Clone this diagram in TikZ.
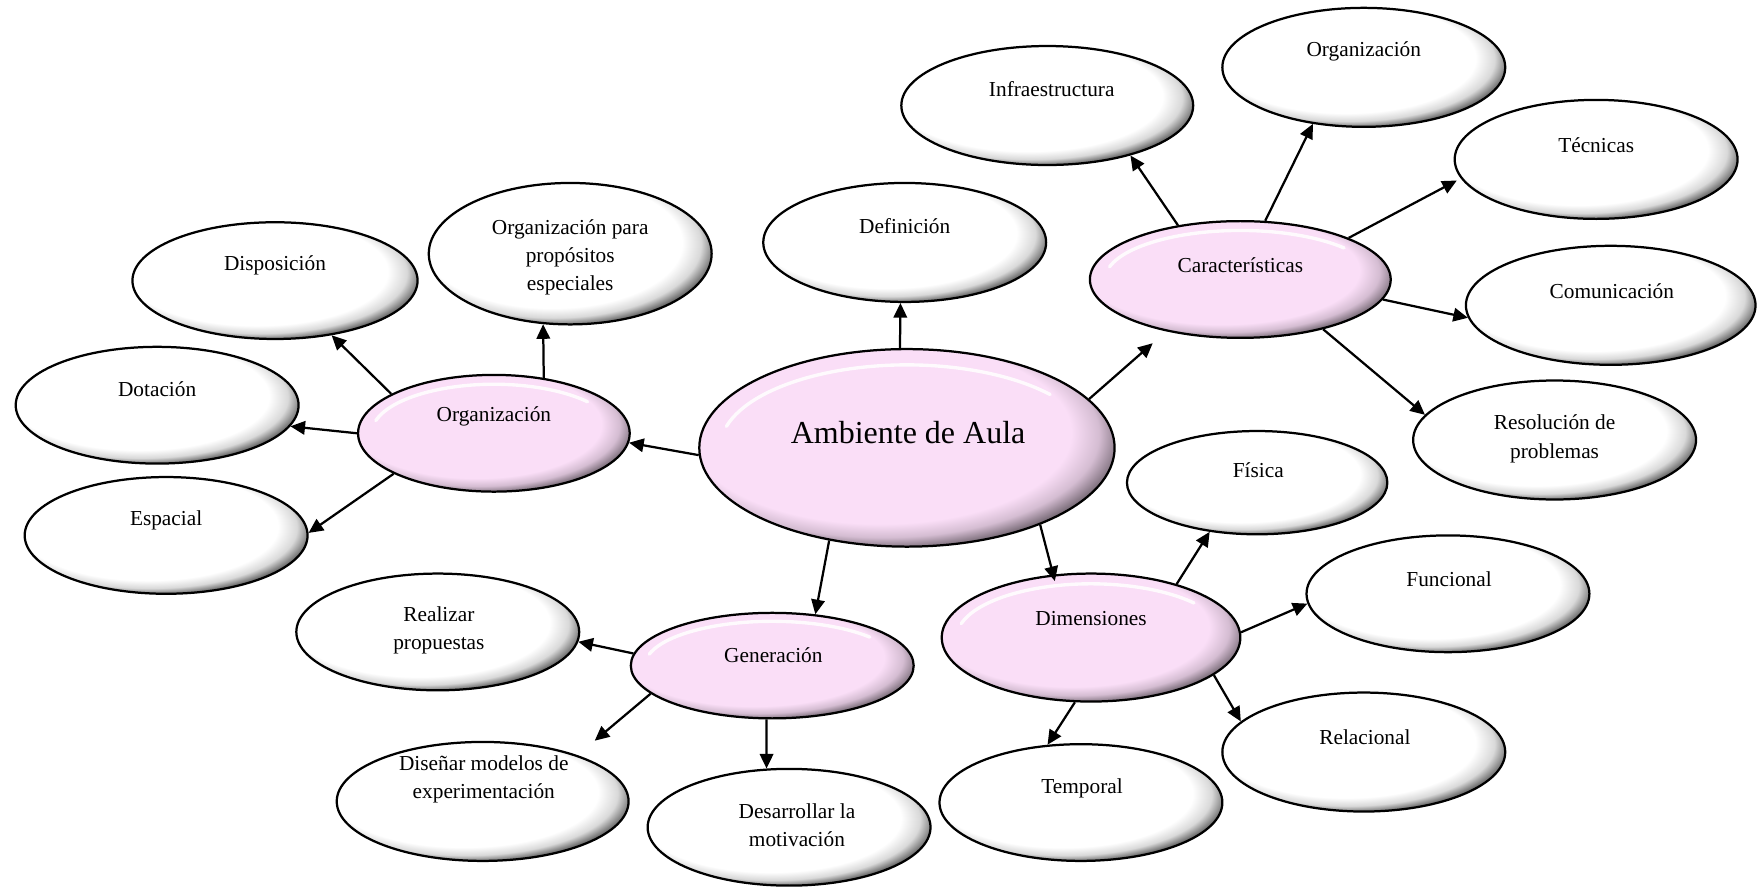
\documentclass[tikz,border=0pt]{standalone}
\usepackage{fontspec}
\setmainfont{Liberation Serif}
\usetikzlibrary{arrows.meta,shapes.geometric,calc}
\definecolor{pk}{RGB}{250,222,247}
\pgfdeclareradialshading{wball}{\pgfpoint{-6bp}{7bp}}{color(0bp)=(white); color(23bp)=(white); color(26bp)=(black!15); color(28.5bp)=(black!60); color(50bp)=(black!60)}
\pgfdeclareradialshading{pball}{\pgfpoint{-6bp}{7bp}}{color(0bp)=(pk); color(23bp)=(pk); color(26bp)=(pk!85!black); color(28.5bp)=(pk!50!black); color(50bp)=(pk!50!black)}
\begin{document}
\begin{tikzpicture}[x=1pt,y=-1pt,
  el/.style={ellipse, draw, line width=2pt, inner sep=0pt, shade, shading=wball},
  pel/.style={ellipse, draw, line width=2pt, inner sep=0pt, shade, shading=pball,
    path picture={\draw[white,line width=3pt,opacity=.85,line cap=round]
      let \p1=(path picture bounding box.north east), \p2=(path picture bounding box.center),
      \n1={0.9*(\x1-\x2)}, \n2={0.84*(\y1-\y2)} in
      ([xshift={\n1*cos(165)}, yshift={\n2*sin(165)}]\p2) arc[start angle=165, end angle=40, x radius=\n1, y radius=\n2];}},
  lab/.style={font=\fontsize{19}{25}\selectfont, align=center, inner sep=0pt},
  big/.style={font=\fontsize{28.5}{34}\selectfont, inner sep=0pt},
  arr/.style={line width=2pt, -{Triangle[length=13pt,width=12pt]}}]
\useasboundingbox (0,0) rectangle (1568,792);

% ellipses
\node[pel, minimum width=370pt, minimum height=176pt] (c) at (808,399) {};
\node[pel, minimum width=242pt, minimum height=104pt] (org) at (440,386) {};
\node[el, minimum width=254pt, minimum height=104pt] (disp) at (245,250) {};
\node[el, minimum width=252pt, minimum height=126pt] (opp) at (508,226) {};
\node[el, minimum width=252pt, minimum height=104pt] (dot) at (140,361) {};
\node[el, minimum width=252pt, minimum height=104pt] (esp) at (148,477) {};
\node[el, minimum width=252pt, minimum height=106pt] (def) at (806,216) {};
\node[pel, minimum width=268pt, minimum height=104pt] (car) at (1105,249) {};
\node[el, minimum width=260pt, minimum height=106pt] (inf) at (933,94) {};
\node[el, minimum width=252pt, minimum height=106pt] (orgr) at (1215,60) {};
\node[el, minimum width=252pt, minimum height=106pt] (tec) at (1422,142) {};
\node[el, minimum width=258pt, minimum height=106pt] (com) at (1435,272) {};
\node[el, minimum width=252pt, minimum height=106pt] (res) at (1385,392) {};
\node[el, minimum width=232pt, minimum height=92pt] (fis) at (1120,430) {};
\node[pel, minimum width=266pt, minimum height=114pt] (dim) at (972,568) {};
\node[el, minimum width=252pt, minimum height=104pt] (fun) at (1290,529) {};
\node[el, minimum width=252pt, minimum height=106pt] (rel) at (1215,670) {};
\node[el, minimum width=252pt, minimum height=104pt] (tem) at (963,715) {};
\node[pel, minimum width=252pt, minimum height=94pt] (gen) at (688,593) {};
\node[el, minimum width=252pt, minimum height=104pt] (rea) at (390,563) {};
\node[el, minimum width=260pt, minimum height=106pt] (dis) at (430,714) {};
\node[el, minimum width=252pt, minimum height=104pt] (des) at (703,737) {};

% labels
\node[big] (c-t) at (809,385) {Ambiente de Aula};
\node[lab] (org-t) at (440,371) {Organización};
\node[lab] (disp-t) at (245,236) {Disposición};
\node[lab] (opp-t) at (508,229) {Organización para\\propósitos\\especiales};
\node[lab] (dot-t) at (140,347) {Dotación};
\node[lab] (esp-t) at (148,464) {Espacial};
\node[lab] (def-t) at (806,201) {Definición};
\node[lab] (car-t) at (1105,236) {Características};
\node[lab] (inf-t) at (937,79) {Infraestructura};
\node[lab] (orgr-t) at (1215,46) {Organización};
\node[lab] (tec-t) at (1422,129) {Técnicas};
\node[lab] (com-t) at (1436,259) {Comunicación};
\node[lab] (res-t) at (1385,391) {Resolución de\\problemas};
\node[lab] (fis-t) at (1121,419) {Física};
\node[lab] (dim-t) at (972,551) {Dimensiones};
\node[lab] (fun-t) at (1291,516) {Funcional};
\node[lab] (rel-t) at (1216,657) {Relacional};
\node[lab] (tem-t) at (964,702) {Temporal};
\node[lab] (gen-t) at (689,584) {Generación};
\node[lab] (rea-t) at (391,562) {Realizar\\propuestas};
\node[lab] (dis-t) at (431,694) {Diseñar modelos de\\experimentación};
\node[lab] (des-t) at (710,735) {Desarrollar la\\motivación};

% arrows
\draw[arr] (c.182) -- (org.356);
\draw[arr] (c.94) -- (def.266);
\draw[arr, shorten >=16pt] (c.15) -- (car.215);
\draw[arr, shorten >=-6pt] (c.330) -- (dim.121);
\draw[arr] (c.230) -- (gen.50);
\draw[arr] (org.159) -- (disp.316);
\draw[arr] (org.48) -- (opp.249);
\draw[arr] (org.180) -- (dot.351);
\draw[arr] (org.202) -- (esp.1);
\draw[arr] (car.139) -- (inf.329);
\draw[arr] (car.67) -- (orgr.228);
\draw[arr, shorten >=4pt] (car.21) -- (tec.188);
\draw[arr] (car.352) -- (com.185);
\draw[arr] (car.329) -- (res.169);
\draw[arr] (dim.32) -- (fis.226);
\draw[arr] (dim.2) -- (fun.184);
\draw[arr] (dim.343) -- (rel.166);
\draw[arr] (dim.256) -- (tem.120);
\draw[arr] (gen.175) -- (rea.356);
\draw[arr, shorten >=20pt] (gen.193) -- (dis.26);
\draw[arr] (gen.264) -- (des.111);
\end{tikzpicture}
\end{document}
